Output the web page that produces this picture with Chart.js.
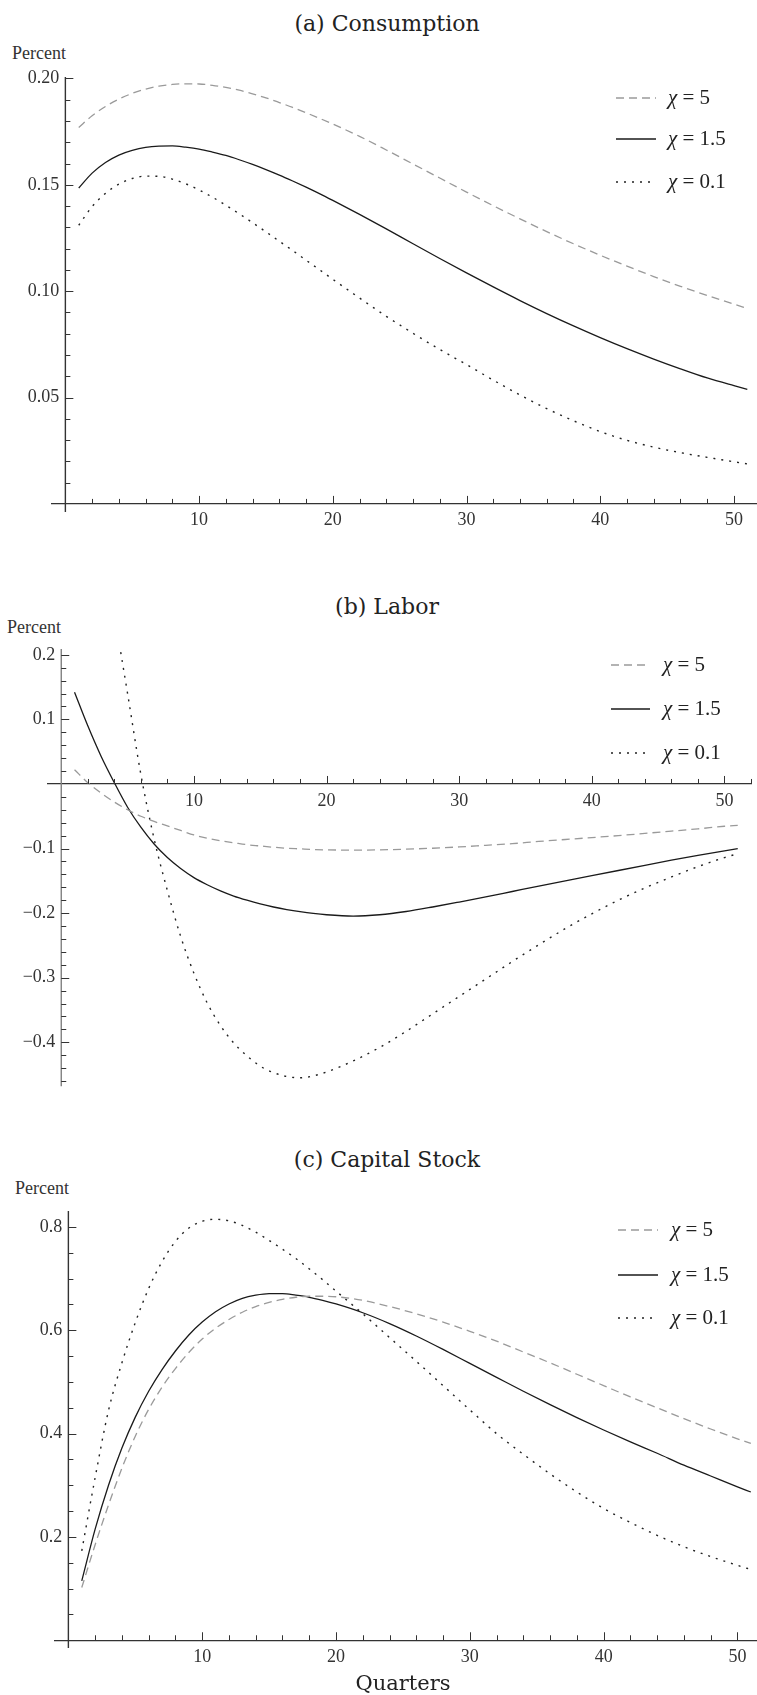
<!DOCTYPE html>
<html>
<head>
<meta charset="utf-8">
<script src="https://cdn.jsdelivr.net/npm/chart.js@4.4.0/dist/chart.umd.min.js"></script>
<style>
body { margin: 0; background: #fff; }
#page { position: relative; width: 757px; height: 1695px; overflow: hidden; }
canvas { position: absolute; left: 0; }
.title { position: absolute; font-family: "DejaVu Serif", serif; font-size: 22px; line-height: 22px; color: #222; white-space: nowrap; transform: translateX(-50%); }
.unit { position: absolute; font-family: "Liberation Serif", serif; font-size: 18px; line-height: 18px; color: #333; }
.xname { position: absolute; font-family: "DejaVu Serif", serif; font-size: 21px; line-height: 21px; color: #222; transform: translateX(-50%); }
</style>
</head>
<body>
<div id="page">
  <div class="title" style="left:387px;top:13px">(a) Consumption</div>
  <div class="unit" style="left:12px;top:44px">Percent</div>
  <canvas id="cons" width="757" height="540" style="top:0px;width:757px;height:540px"></canvas>

  <div class="title" style="left:387px;top:596px">(b) Labor</div>
  <div class="unit" style="left:7px;top:618px">Percent</div>
  <canvas id="labor" width="757" height="560" style="top:540px;width:757px;height:560px"></canvas>

  <div class="title" style="left:387px;top:1149px">(c) Capital Stock</div>
  <div class="unit" style="left:15px;top:1179px">Percent</div>
  <canvas id="capital" width="757" height="595" style="top:1100px;width:757px;height:595px"></canvas>
  <div class="xname" style="left:403px;top:1673px">Quarters</div>
</div>

<script>
// quarters after the shock
var quarters = [1, 2, 3, 4, 5, 6, 7, 8, 9, 10, 11, 12, 13, 14, 15, 16, 17, 18, 19, 20,
                22, 24, 26, 28, 30, 32, 34, 36, 38, 40, 42, 44, 46, 48, 50, 51];

var chiLabels = ['5', '1.5', '0.1'];

// (a) consumption
var consChi5 = [0.1770, 0.1825, 0.1868, 0.1903, 0.1930, 0.1950, 0.1964, 0.1972, 0.1975, 0.1974,
                0.1968, 0.1958, 0.1945, 0.1928, 0.1909, 0.1887, 0.1864, 0.1839, 0.1813, 0.1786,
                0.1728, 0.1664, 0.1598, 0.1532, 0.1466, 0.1402, 0.1340, 0.1280, 0.1223, 0.1169,
                0.1118, 0.1069, 0.1023, 0.0980, 0.0939, 0.0919];
var consChi15 = [0.1485, 0.1555, 0.1605, 0.1640, 0.1662, 0.1676, 0.1682, 0.1683, 0.1677, 0.1668,
                 0.1654, 0.1638, 0.1618, 0.1596, 0.1572, 0.1546, 0.1518, 0.1489, 0.1459, 0.1427,
                 0.1361, 0.1293, 0.1223, 0.1154, 0.1086, 0.1020, 0.0956, 0.0895, 0.0837, 0.0782,
                 0.0730, 0.0681, 0.0635, 0.0592, 0.0556, 0.0539];
var consChi01 = [0.1310, 0.1398, 0.1460, 0.1503, 0.1530, 0.1541, 0.1540, 0.1527, 0.1505, 0.1476,
                 0.1442, 0.1404, 0.1364, 0.1322, 0.1279, 0.1235, 0.1191, 0.1146, 0.1101, 0.1056,
                 0.0968, 0.0882, 0.0802, 0.0726, 0.0655, 0.0582, 0.0512, 0.0448, 0.0391, 0.0340,
                 0.0299, 0.0267, 0.0241, 0.0219, 0.0198, 0.0188];

// (b) labor
var laborChi5 = [0.022, 0.002, -0.014, -0.028, -0.040, -0.050, -0.058, -0.065, -0.072, -0.079,
                 -0.084, -0.088, -0.091, -0.094, -0.096, -0.098, -0.0995, -0.1005, -0.1015, -0.102,
                 -0.1025, -0.102, -0.101, -0.0995, -0.0975, -0.095, -0.0925, -0.089, -0.086, -0.083,
                 -0.080, -0.0765, -0.073, -0.0695, -0.0655, -0.064];
var laborChi15 = [0.142, 0.090, 0.043, 0.002, -0.036, -0.067, -0.093, -0.114, -0.131, -0.145,
                  -0.156, -0.1655, -0.1735, -0.180, -0.1857, -0.1905, -0.1945, -0.1978, -0.2005, -0.2025,
                  -0.2045, -0.2025, -0.1975, -0.1905, -0.1828, -0.1748, -0.1665, -0.1582, -0.150, -0.142,
                  -0.134, -0.126, -0.118, -0.1105, -0.1035, -0.100];
var laborChi01 = [null, null, 0.400, 0.265, 0.140, 0.015, -0.085, -0.165, -0.236, -0.293,
                  -0.339, -0.374, -0.401, -0.421, -0.437, -0.447, -0.453, -0.455, -0.452, -0.446,
                  -0.429, -0.408, -0.383, -0.356, -0.329, -0.302, -0.275, -0.249, -0.224, -0.201,
                  -0.180, -0.161, -0.144, -0.128, -0.114, -0.108];

// (c) capital stock
var capChi5 = [0.102, 0.185, 0.262, 0.333, 0.395, 0.447, 0.490, 0.526, 0.557, 0.583,
               0.604, 0.621, 0.635, 0.646, 0.654, 0.660, 0.664, 0.666, 0.666, 0.665,
               0.658, 0.646, 0.632, 0.616, 0.598, 0.579, 0.558, 0.537, 0.515, 0.493,
               0.471, 0.450, 0.429, 0.409, 0.390, 0.381];
var capChi15 = [0.115, 0.215, 0.300, 0.372, 0.432, 0.482, 0.524, 0.560, 0.591, 0.616,
                0.636, 0.651, 0.662, 0.668, 0.671, 0.671, 0.668, 0.664, 0.658, 0.651,
                0.634, 0.613, 0.589, 0.563, 0.536, 0.509, 0.482, 0.456, 0.431, 0.407,
                0.384, 0.362, 0.339, 0.318, 0.297, 0.287];
var capChi01 = [0.173, 0.315, 0.445, 0.537, 0.615, 0.681, 0.733, 0.772, 0.798, 0.811,
                0.815, 0.812, 0.803, 0.790, 0.774, 0.757, 0.739, 0.719, 0.698, 0.676,
                0.632, 0.586, 0.540, 0.493, 0.446, 0.400, 0.360, 0.322, 0.287, 0.255,
                0.228, 0.203, 0.181, 0.162, 0.145, 0.137];

var lineStyles = [
    { color: '#9a9a9a', width: 1.3, dash: [8, 5] },
    { color: '#1a1a1a', width: 1.3, dash: [] },
    { color: '#222222', width: 1.4, dash: [2, 6] }
];

function points(arr) {
    return quarters.map(function (q, i) { return { x: q, y: arr[i] }; });
}

// y axis line and small inward tick marks, like the original plot
var inwardTicks = {
    id: 'inwardTicks',
    afterDraw: function (chart, args, opts) {
        var ctx = chart.ctx, xs = chart.scales.x, ys = chart.scales.y;
        var area = chart.chartArea;
        var x0 = xs.getPixelForValue(0), y0 = ys.getPixelForValue(0);
        ctx.save();
        ctx.strokeStyle = opts.axisColor;
        ctx.lineWidth = 1.4;
        ctx.beginPath();
        ctx.moveTo(x0, area.top);
        ctx.lineTo(x0, area.bottom);
        ctx.stroke();

        ctx.strokeStyle = '#333';
        ctx.lineWidth = 1;
        ctx.beginPath();
        xs.ticks.forEach(function (t) {
            if (t.value <= 0 || t.value > xs.max) return;
            var px = Math.round(xs.getPixelForValue(t.value)) + 0.5;
            var len = t.label ? 8 : 5;
            ctx.moveTo(px, y0);
            ctx.lineTo(px, y0 - len);
        });
        ys.ticks.forEach(function (t) {
            if (Math.abs(t.value) < 1e-9 || t.value < ys.min || t.value > ys.max) return;
            var py = Math.round(ys.getPixelForValue(t.value)) + 0.5;
            var len = t.label ? 8 : 5;
            ctx.moveTo(x0, py);
            ctx.lineTo(x0 + len, py);
        });
        ctx.stroke();
        ctx.restore();
    }
};

// legend drawn inside the plot
var chiLegend = {
    id: 'chiLegend',
    afterDraw: function (chart, args, opts) {
        var ctx = chart.ctx;
        ctx.save();
        opts.rows.forEach(function (ry, i) {
            var st = lineStyles[i];
            ctx.beginPath();
            ctx.strokeStyle = st.color;
            ctx.lineWidth = st.width;
            ctx.setLineDash(st.dash);
            ctx.moveTo(opts.x1, ry);
            ctx.lineTo(opts.x2, ry);
            ctx.stroke();
            ctx.setLineDash([]);
            ctx.fillStyle = '#222';
            ctx.textBaseline = 'middle';
            ctx.font = 'italic 21px "Liberation Serif"';
            ctx.fillText('\u03c7', opts.tx, ry);
            var w = ctx.measureText('\u03c7').width;
            ctx.font = '21px "Liberation Serif"';
            ctx.fillText(' = ' + chiLabels[i], opts.tx + w, ry);
        });
        ctx.restore();
    }
};

function makePanel(id, series, cfg) {
    var tickFont = { family: 'Liberation Serif', size: 18 };
    new Chart(document.getElementById(id), {
        type: 'line',
        data: {
            datasets: series.map(function (arr, i) {
                return {
                    label: '\u03c7 = ' + chiLabels[i],
                    data: points(arr),
                    borderColor: lineStyles[i].color,
                    borderWidth: lineStyles[i].width,
                    borderDash: lineStyles[i].dash,
                    pointRadius: 0,
                    cubicInterpolationMode: 'monotone',
                    fill: false
                };
            })
        },
        options: {
            responsive: false,
            animation: false,
            layout: { padding: cfg.padding },
            plugins: {
                legend: { display: false },
                tooltip: { enabled: false },
                chiLegend: cfg.legend,
                inwardTicks: { axisColor: cfg.yAxisColor }
            },
            scales: {
                x: {
                    type: 'linear',
                    min: -1,
                    max: cfg.xMax,
                    position: { y: 0 },
                    afterFit: function (s) { s.height = 0; },
                    grid: { display: true, color: 'rgba(0,0,0,0)', drawTicks: false },
                    border: { display: true, color: '#333', width: 1.2 },
                    ticks: {
                        stepSize: 2,
                        autoSkip: false,
                        includeBounds: false,
                        maxRotation: 0,
                        padding: 6,
                        color: '#333',
                        font: tickFont,
                        callback: function (v) {
                            return (v > 0 && v % 10 === 0) ? String(v) : '';
                        }
                    }
                },
                y: {
                    type: 'linear',
                    min: cfg.yMin,
                    max: cfg.yMax,
                    // labels sit a few pixels left of the axis at x = 0
                    position: { x: -0.45 },
                    afterFit: function (s) { s.width = 0; },
                    grid: { display: true, color: 'rgba(0,0,0,0)', drawTicks: false },
                    border: { display: false },
                    ticks: {
                        stepSize: cfg.yStep,
                        autoSkip: false,
                        includeBounds: false,
                        color: '#333',
                        font: tickFont,
                        callback: function (v) {
                            var k = v / cfg.yLabelStep;
                            if (Math.abs(v) < 1e-9 || Math.abs(k - Math.round(k)) > 1e-6) return '';
                            var s = Math.abs(v).toFixed(cfg.decimals);
                            return v < 0 ? '\u2212' + s : s;
                        }
                    }
                }
            }
        },
        plugins: [inwardTicks, chiLegend]
    });
}

makePanel('cons', [consChi5, consChi15, consChi01], {
    padding: { left: 52, right: 1, top: 77, bottom: 28 },
    xMax: 51.65, yMin: -0.0038, yMax: 0.2007, yStep: 0.01, yLabelStep: 0.05, decimals: 2,
    yAxisColor: '#333',
    legend: { x1: 616, x2: 656, tx: 668, rows: [98, 139, 182] }
});

makePanel('labor', [laborChi5, laborChi15, laborChi01], {
    padding: { left: 48, right: 0, top: 109, bottom: 13 },
    xMax: 52.05, yMin: -0.468, yMax: 0.209, yStep: 0.02, yLabelStep: 0.1, decimals: 1,
    yAxisColor: '#808080',
    legend: { x1: 611, x2: 650, tx: 663, rows: [125, 169, 213] }
});

makePanel('capital', [capChi5, capChi15, capChi01], {
    padding: { left: 55, right: 0, top: 111, bottom: 47 },
    xMax: 51.46, yMin: -0.015, yMax: 0.831, yStep: 0.05, yLabelStep: 0.2, decimals: 1,
    yAxisColor: '#333',
    legend: { x1: 618, x2: 658, tx: 671, rows: [130, 175, 218] }
});
</script>
</body>
</html>
